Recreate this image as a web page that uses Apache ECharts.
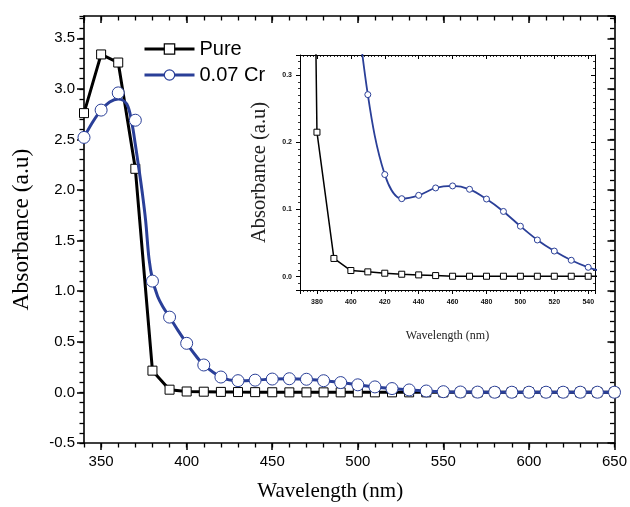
<!DOCTYPE html>
<html>
<head>
<meta charset="utf-8">
<script src="https://cdn.jsdelivr.net/npm/echarts@6/dist/echarts.min.js"></script>
<style>
html,body{margin:0;padding:0;background:#fff;}
#chart{width:630px;height:507px;}
</style>
</head>
<body>
<div id="chart"></div>
<script>
// ---- data ----
const wavelengths = [340,350,360,370,380,390,400,410,420,430,440,450,460,470,480,490,500,510,520,530,540,550,560,570,580,590,600,610,620,630,640,650];
const pureAbs = [2.76,3.34,3.26,2.21,0.215,0.027,0.009,0.007,0.005,0.0035,0.0025,0.0015,0.0005,0.0005,0.0005,0.0005,0.0005,0.0005,0.0005,0.0005,0.0005,0.0005,0.0005,0.0005,0.0005,0.0005,0.0005,0.0005,0.0005,0.0005,0.0005,0.0005];
const crAbs = [2.52,2.79,2.96,2.69,1.10,0.744,0.485,0.271,0.152,0.116,0.121,0.132,0.135,0.130,0.1155,0.097,0.075,0.0545,0.038,0.0243,0.0138,0.007,0.004,0.003,0.002,0.002,0.002,0.002,0.002,0.002,0.002,0.002];
// fitted (smoothed) curve of the 0.07 Cr sample
const crFitX = [340,345,350,355,360,365,368,370,372,374,376,378,380,383,386,390,395,400,405];
const crFitY = [2.52,2.67,2.79,2.87,2.90,2.85,2.66,2.45,2.22,1.98,1.70,1.32,1.12,0.95,0.85,0.745,0.61,0.485,0.37];
const legendNames = ['Pure', '0.07 Cr'];

const BLUE = '#2a3f98';
const pairs = (xs, ys) => xs.map((x, i) => [x, ys[i]]);
const pureData = pairs(wavelengths, pureAbs);
const crData = pairs(wavelengths, crAbs);
const crFit = pairs(crFitX, crFitY).concat(crData.filter(d => d[0] > 405));

const f1 = v => (Math.abs(v * 10 - Math.round(v * 10)) < 1e-6 ? v.toFixed(1) : '');
const mainTick = () => ({show: true, length: 7, lineStyle: {color: '#000', width: 1.5}});
const noMinor = () => ({show: false});
const mainLine = () => ({show: true, onZero: false, lineStyle: {color: '#000', width: 1.6}});
const insetTick = () => ({show: true, length: 4, lineStyle: {color: '#000', width: 1}});
const insetMinor = () => ({show: true, splitNumber: 10, length: 2, lineStyle: {color: '#000', width: 0.8}});
const insetLine = () => ({show: true, onZero: false, lineStyle: {color: '#000', width: 1}});
const insetLbl = () => ({fontSize: 7, fontWeight: 'bold', color: '#111', fontFamily: 'Liberation Sans'});
// short-tick helper axes for the main frame (10 nm and 0.1 steps)
const smallTickAxis = (pos, inside, range, step) => ({
  gridIndex: 0, type: 'value', min: range[0], max: range[1], interval: step, position: pos,
  axisLine: {show: false, onZero: false},
  axisTick: {show: true, inside: inside, length: 4.5, lineStyle: {color: '#000', width: 1.3}},
  axisLabel: {show: false}, splitLine: {show: false}, minorTick: {show: false}
});

const chart = echarts.init(document.getElementById('chart'), null, {renderer: 'canvas'});
chart.setOption({
  animation: false,
  backgroundColor: '#fff',
  grid: [
    {left: 84, right: 15, top: 16, bottom: 63},
    {left: 300, right: 35, top: 55, bottom: 217, show: true, backgroundColor: '#fff', borderWidth: 0}
  ],
  legend: {
    orient: 'vertical', left: 143, top: 39, padding: 0, itemWidth: 50, itemHeight: 13, itemGap: 6, itemTextGap: 6,
    textStyle: {fontSize: 20, color: '#000', fontFamily: 'Liberation Sans'},
    data: [
      {name: legendNames[0], itemStyle: {color: '#fff', borderColor: '#000', borderWidth: 1.2}, lineStyle: {color: '#000', width: 3}},
      {name: legendNames[1], itemStyle: {color: '#fff', borderColor: BLUE, borderWidth: 1.2}, lineStyle: {color: BLUE, width: 3}}
    ]
  },
  xAxis: [
    {gridIndex: 0, type: 'value', min: 340, max: 650, splitNumber: 6, position: 'bottom',
     axisLine: mainLine(), axisTick: mainTick(), minorTick: noMinor(), splitLine: {show: false},
     axisLabel: {fontSize: 15, color: '#000', fontFamily: 'Liberation Sans', margin: 11, showMinLabel: false,
       formatter: v => (v % 50 === 0 ? String(v) : '')},
     name: 'Wavelength (nm)', nameLocation: 'middle', nameGap: 38,
     nameTextStyle: {fontFamily: 'Liberation Serif', fontSize: 21, color: '#000', padding: [0, 38, 0, 0]}},
    {gridIndex: 0, type: 'value', min: 340, max: 650, splitNumber: 6, position: 'top',
     axisLine: mainLine(), axisTick: Object.assign(mainTick(), {inside: true}), minorTick: noMinor(),
     splitLine: {show: false}, axisLabel: {show: false}},
    {gridIndex: 1, type: 'value', min: 370, max: 544, splitNumber: 9, position: 'bottom',
     axisLine: insetLine(), axisTick: insetTick(), minorTick: insetMinor(), splitLine: {show: false},
     axisLabel: Object.assign({margin: 9, showMinLabel: false, showMaxLabel: false,
       formatter: v => (v % 20 === 0 ? String(v) : '')}, insetLbl()),
     name: 'Wavelength (nm)', nameLocation: 'middle', nameGap: 40,
     nameTextStyle: {fontFamily: 'Liberation Serif', fontSize: 12, color: '#222'}},
    {gridIndex: 1, type: 'value', min: 370, max: 544, splitNumber: 9, position: 'top',
     axisLine: insetLine(), axisTick: Object.assign(insetTick(), {inside: true}), minorTick: insetMinor(),
     splitLine: {show: false}, axisLabel: {show: false}},
    smallTickAxis('bottom', false, [340, 650], 10),
    smallTickAxis('top', true, [340, 650], 10)
  ],
  yAxis: [
    {gridIndex: 0, type: 'value', min: -0.5, max: 3.72, splitNumber: 8, position: 'left',
     axisLine: mainLine(), axisTick: mainTick(), minorTick: noMinor(), splitLine: {show: false},
     axisLabel: {fontSize: 15, color: '#000', fontFamily: 'Liberation Sans', margin: 9, showMaxLabel: false, formatter: f1},
     name: 'Absorbance (a.u)', nameLocation: 'middle', nameGap: 50,
     nameTextStyle: {fontFamily: 'Liberation Serif', fontSize: 23.5, color: '#000'}},
    {gridIndex: 0, type: 'value', min: -0.5, max: 3.72, splitNumber: 8, position: 'right',
     axisLine: mainLine(), axisTick: Object.assign(mainTick(), {inside: true}), minorTick: noMinor(),
     splitLine: {show: false}, axisLabel: {show: false}},
    {gridIndex: 1, type: 'value', min: -0.02, max: 0.33, splitNumber: 4, position: 'left',
     axisLine: insetLine(), axisTick: insetTick(), minorTick: insetMinor(), splitLine: {show: false},
     axisLabel: Object.assign({margin: 8, showMinLabel: false, showMaxLabel: false, formatter: f1}, insetLbl()),
     name: 'Absorbance (a.u)', nameLocation: 'middle', nameGap: 30,
     nameTextStyle: {fontFamily: 'Liberation Serif', fontSize: 20.5, color: '#222'}},
    {gridIndex: 1, type: 'value', min: -0.02, max: 0.33, splitNumber: 4, position: 'right',
     axisLine: insetLine(), axisTick: Object.assign(insetTick(), {inside: true}), minorTick: insetMinor(),
     splitLine: {show: false}, axisLabel: {show: false}},
    smallTickAxis('left', false, [-0.5, 3.72], 0.1),
    smallTickAxis('right', true, [-0.5, 3.72], 0.1)
  ],
  series: [
    {name: legendNames[0], type: 'line', xAxisIndex: 0, yAxisIndex: 0, data: pureData,
     symbol: 'rect', symbolSize: 9, showAllSymbol: true,
     itemStyle: {color: '#fff', borderColor: '#000', borderWidth: 1},
     lineStyle: {color: '#000', width: 3}, z: 2},
    {name: legendNames[1], type: 'line', xAxisIndex: 0, yAxisIndex: 0, data: crFit,
     smooth: 0.35, symbol: 'circle', showSymbol: false,
     itemStyle: {color: '#fff', borderColor: BLUE, borderWidth: 1},
     lineStyle: {color: BLUE, width: 3}, z: 3},
    {name: 'crMarkers', type: 'scatter', xAxisIndex: 0, yAxisIndex: 0, data: crData,
     symbol: 'circle', symbolSize: 12,
     itemStyle: {color: '#fff', borderColor: BLUE, borderWidth: 1, opacity: 1}, z: 4},
    {name: 'pureInset', type: 'line', xAxisIndex: 2, yAxisIndex: 2, data: pureData, clip: true,
     symbol: 'rect', symbolSize: 6, showAllSymbol: true,
     itemStyle: {color: '#fff', borderColor: '#000', borderWidth: 1},
     lineStyle: {color: '#000', width: 1.5}, z: 6},
    {name: 'crInset', type: 'line', xAxisIndex: 2, yAxisIndex: 2, data: crData, clip: true,
     smooth: 0.35, symbol: 'circle', symbolSize: 6, showAllSymbol: true,
     itemStyle: {color: '#fff', borderColor: BLUE, borderWidth: 1},
     lineStyle: {color: BLUE, width: 1.8}, z: 6}
  ]
});
</script>
</body>
</html>
